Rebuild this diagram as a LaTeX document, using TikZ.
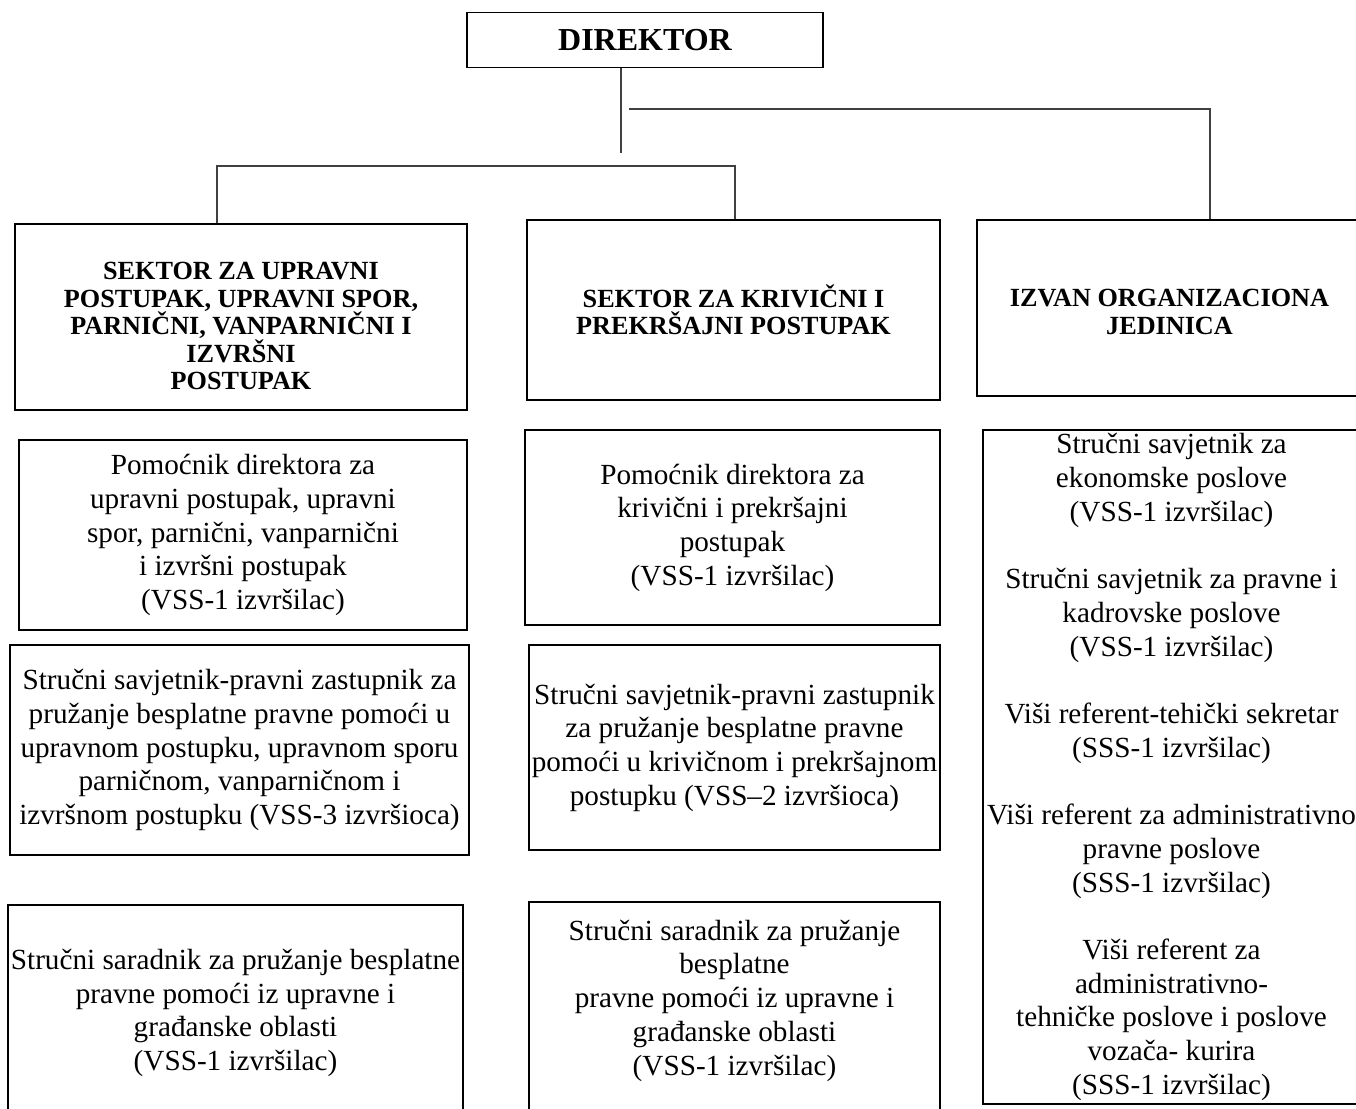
\documentclass[tikz,border=0pt]{standalone}
\usepackage{fontspec}
\setmainfont{Liberation Serif}
\usetikzlibrary{positioning,calc}
\tikzstyle{box}=[%
      rectangle, draw=black, line width=1.2pt, fill=none,
      align=center, inner sep=2pt, font=\fontsize{29.2}{33.7}\selectfont
]
\tikzstyle{head}=[%
      box, font=\bfseries\fontsize{26.2}{27.5}\selectfont
]
\tikzstyle{link}=[%
      draw=black!75, line width=1.2pt
]

\begin{document}
\begin{tikzpicture}[x=1pt, y=-1pt]
    \useasboundingbox (0,0) rectangle (1356,1108);
    \clip (0,0) rectangle (1356,1108);

    \node[box, minimum width=356, minimum height=55,
          font=\bfseries\fontsize{32}{36}\selectfont] (dir) at (645,40) {DIREKTOR};

    \node[head, minimum width=452, minimum height=186] (s1) at (241,317)
        {\rule{0pt}{36pt}SEKTOR ZA UPRAVNI\\ POSTUPAK, UPRAVNI SPOR,\\ PARNIČNI, VANPARNIČNI I\\ IZVRŠNI\\ POSTUPAK};
    \node[head, minimum width=413, minimum height=180] (s2) at (733.5,310)
        {SEKTOR ZA KRIVIČNI I\\ PREKRŠAJNI POSTUPAK};
    \node[head, minimum width=385, minimum height=176] (s3) at (1169.5,308)
        {\rule{0pt}{25pt}IZVAN ORGANIZACIONA\\ JEDINICA};

    \node[box, minimum width=448, minimum height=190] (p1) at (243,535)
        {Pomoćnik direktora za\\ upravni postupak, upravni\\ spor, parnični, vanparnični\\ i izvršni postupak\\ (VSS-1 izvršilac)};
    \node[box, minimum width=415, minimum height=195] (p2) at (732.5,527.5)
        {Pomoćnik direktora za\\ krivični i prekršajni\\ postupak\\ (VSS-1 izvršilac)};

    \node[box, minimum width=459, minimum height=210] (q1) at (239.5,750)
        {Stručni savjetnik-pravni zastupnik za\\ pružanje besplatne pravne pomoći u\\ upravnom postupku, upravnom sporu\\ parničnom, vanparničnom i\\ izvršnom postupku (VSS-3 izvršioca)};
    \node[box, minimum width=411, minimum height=205] (q2) at (734.5,747.5)
        {Stručni savjetnik-pravni zastupnik\\ za pružanje besplatne pravne\\ pomoći u krivičnom i prekršajnom\\ postupku (VSS--2 izvršioca)};

    \node[box, minimum width=455, minimum height=216] (b1) at (235.5,1013)
        {Stručni saradnik za pružanje besplatne\\ pravne pomoći iz upravne i\\ građanske oblasti\\ (VSS-1 izvršilac)};
    \node[box, minimum width=411, minimum height=218] (b2) at (734.5,1011)
        {Stručni saradnik za pružanje\\ besplatne\\ pravne pomoći iz upravne i\\ građanske oblasti\\ (VSS-1 izvršilac)\rule[-27pt]{0pt}{0pt}};

    \node[box, inner ysep=0pt, minimum width=377, minimum height=674] (r) at (1171.5,767)
        {Stručni savjetnik za\\ ekonomske poslove\\ (VSS-1 izvršilac)\\[33.7pt]
         Stručni savjetnik za pravne i\\ kadrovske poslove\\ (VSS-1 izvršilac)\\[33.7pt]
         Viši referent-tehički sekretar\\ (SSS-1 izvršilac)\\[33.7pt]
         Viši referent za administrativno\\ pravne poslove\\ (SSS-1 izvršilac)\\[33.7pt]
         Viši referent za\\ administrativno-\\ tehničke poslove i poslove\\ vozača- kurira\\ (SSS-1 izvršilac)};

    % connector ends
    \coordinate (d1) at (621,153);
    \coordinate (r0) at (629,109);
    \coordinate (r1) at (1210,109);
    \coordinate (l0) at (217,166);
    \coordinate (l1) at (735,166);

    \path[link] (dir.south -| d1) -- (d1);
    \path[link] (r0) -- (r1) -- (r1 |- s3.north);
    \path[link] (l0 |- s1.north) -- (l0) -- (l1) -- (l1 |- s2.north);
\end{tikzpicture}
\end{document}
